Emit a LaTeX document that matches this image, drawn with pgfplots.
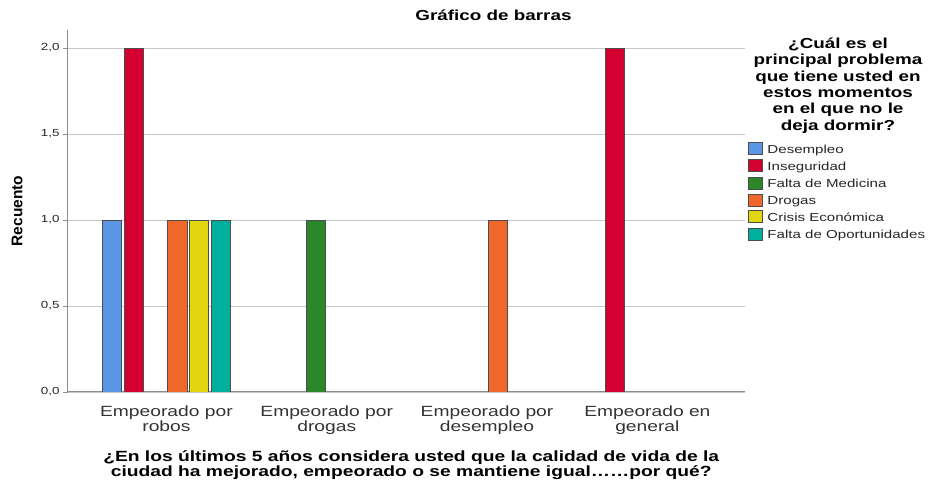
\documentclass[border=0pt]{standalone}
\usepackage{fontspec}
\setmainfont{Liberation Sans}[FakeStretch=1.3]
\newfontfamily\plainsans{Liberation Sans}
\usepackage{pgfplots}
\pgfplotsset{compat=1.18}
\definecolor{cDes}{RGB}{90,150,227}
\definecolor{cIns}{RGB}{213,0,50}
\definecolor{cMed}{RGB}{42,136,42}
\definecolor{cDro}{RGB}{240,103,42}
\definecolor{cCri}{RGB}{226,215,15}
\definecolor{cOpo}{RGB}{0,176,157}
\begin{document}
\begin{tikzpicture}
\useasboundingbox (-68pt,-89pt) rectangle (861pt,392pt);
\begin{axis}[
  at={(0pt,0pt)}, anchor=south west,
  scale only axis, width=677pt, height=362pt,
  xmin=-0.614, xmax=3.609,
  ymin=0, ymax=2.105,
  ybar=2.5pt, bar width=19.3pt,
  axis x line=bottom, axis y line=left,
  axis line style={-, draw=black!45, line width=1pt},
  ytick={0,0.5,1,1.5,2},
  yticklabel style={/pgf/number format/use comma, /pgf/number format/fixed, /pgf/number format/fixed zerofill, /pgf/number format/precision=1, /pgf/number format/assume math mode=true, font=\fontsize{10.3}{12}\selectfont, text=black!85},
  ymajorgrids, grid style={black!22, line width=0.9pt},
  tick align=outside, major tick length=5pt,
  ytick style={draw=black!45, line width=0.8pt},
  xtick={0,1,2,3},
  xticklabels={Empeorado por\\robos, Empeorado por\\drogas, Empeorado por\\desempleo, Empeorado en\\general},
  xticklabel style={align=center, font=\fontsize{14.8}{15}\selectfont, text=black!80, yshift=-5pt},
  xtick style={draw=none},
  xlabel={¿En los últimos 5 años considera usted que la calidad de vida de la\\ciudad ha mejorado, empeorado o se mantiene igual……por qué?},
  xlabel style={at={(axis description cs:0.507,-0.203)}, anchor=center, align=center, font=\bfseries\fontsize{14.8}{15}\selectfont},
  ylabel={Recuento},
  ylabel style={at={(axis description cs:-0.0753,0.5)}, anchor=center, font=\plainsans\bfseries\fontsize{15.5}{17}\selectfont},
  legend style={at={(axis description cs:1.0044,0.690)}, anchor=north west, draw=none, fill=none,
    font=\fontsize{11.6}{13}\selectfont, row sep=3.2pt, column sep=3.5pt, inner sep=0pt,
    nodes={inner sep=1.5pt, text=black!85}},
  legend cell align=left,
  legend image code/.code={\draw[#1, line width=0.8pt] (0pt,-5pt) rectangle (13.5pt,7pt);},
]
\addplot[fill=cDes, draw=black!70, line width=0.8pt] coordinates {(0,1)};
\addlegendentry{Desempleo}
\addplot[fill=cIns, draw=black!70, line width=0.8pt] coordinates {(0,2) (3,2)};
\addlegendentry{Inseguridad}
\addplot[fill=cMed, draw=black!70, line width=0.8pt] coordinates {(1,1)};
\addlegendentry{Falta de Medicina}
\addplot[fill=cDro, draw=black!70, line width=0.8pt] coordinates {(0,1) (2,1)};
\addlegendentry{Drogas}
\addplot[fill=cCri, draw=black!70, line width=0.8pt] coordinates {(0,1)};
\addlegendentry{Crisis Económica}
\addplot[fill=cOpo, draw=black!70, line width=0.8pt] coordinates {(0,1)};
\addlegendentry{Falta de Oportunidades}
\end{axis}
\node[font=\bfseries\fontsize{14.5}{16}\selectfont] at (425.5pt,377pt) {Gráfico de barras};
\node[font=\bfseries\fontsize{14.5}{16.3}\selectfont, align=center] at (770pt,306.5pt)
  {¿Cuál es el\\principal problema\\que tiene usted en\\estos momentos\\en el que no le\\deja dormir?};
\end{tikzpicture}
\end{document}
